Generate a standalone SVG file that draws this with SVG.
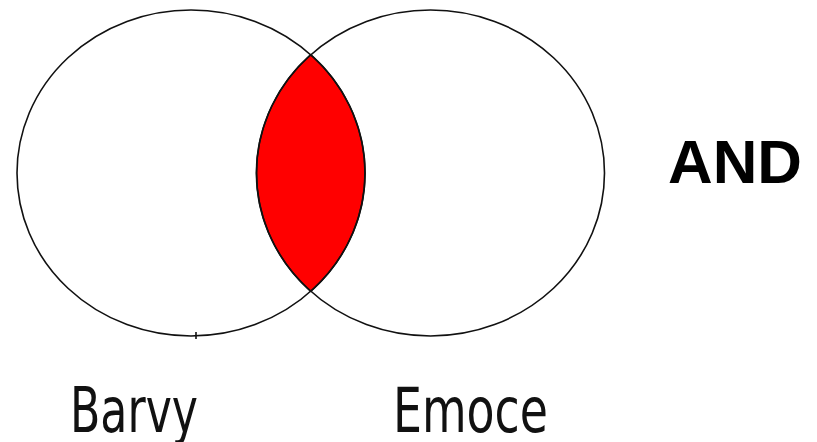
<svg xmlns="http://www.w3.org/2000/svg" width="817" height="442" viewBox="0 0 817 442">
<style>
.set{fill:none;stroke:#111;stroke-width:1.6}
.lens{fill:#ff0000;stroke:#111;stroke-width:1.6}
.lbl{font-family:"DejaVu Sans","Liberation Sans",sans-serif;font-size:62px;fill:#111}
.op{font-family:"Liberation Sans",Arial,sans-serif;font-weight:bold;font-size:61px;fill:#000}
</style>
<rect width="817" height="442" fill="#fff"/>
<g id="intersection">
<path class="lens" d="M310.75,54.7 A174,163 0 0 1 310.75,291.3 A174,163 0 0 1 310.75,54.7 Z"/>
</g>
<g id="barvy">
<ellipse class="set" cx="191" cy="173" rx="174" ry="163"/>
<line x1="196" y1="332" x2="196" y2="339" stroke="#111" stroke-width="1.6"/>
<text class="lbl" x="70" y="432" textLength="128" lengthAdjust="spacingAndGlyphs">Barvy</text>
</g>
<g id="emoce">
<ellipse class="set" cx="430.5" cy="173" rx="174" ry="163"/>
<text class="lbl" x="393" y="432" textLength="155" lengthAdjust="spacingAndGlyphs">Emoce</text>
</g>
<g id="and">
<text class="op" x="668" y="183" textLength="134" lengthAdjust="spacingAndGlyphs">AND</text>
</g>
<g id="connectors"/>
</svg>
